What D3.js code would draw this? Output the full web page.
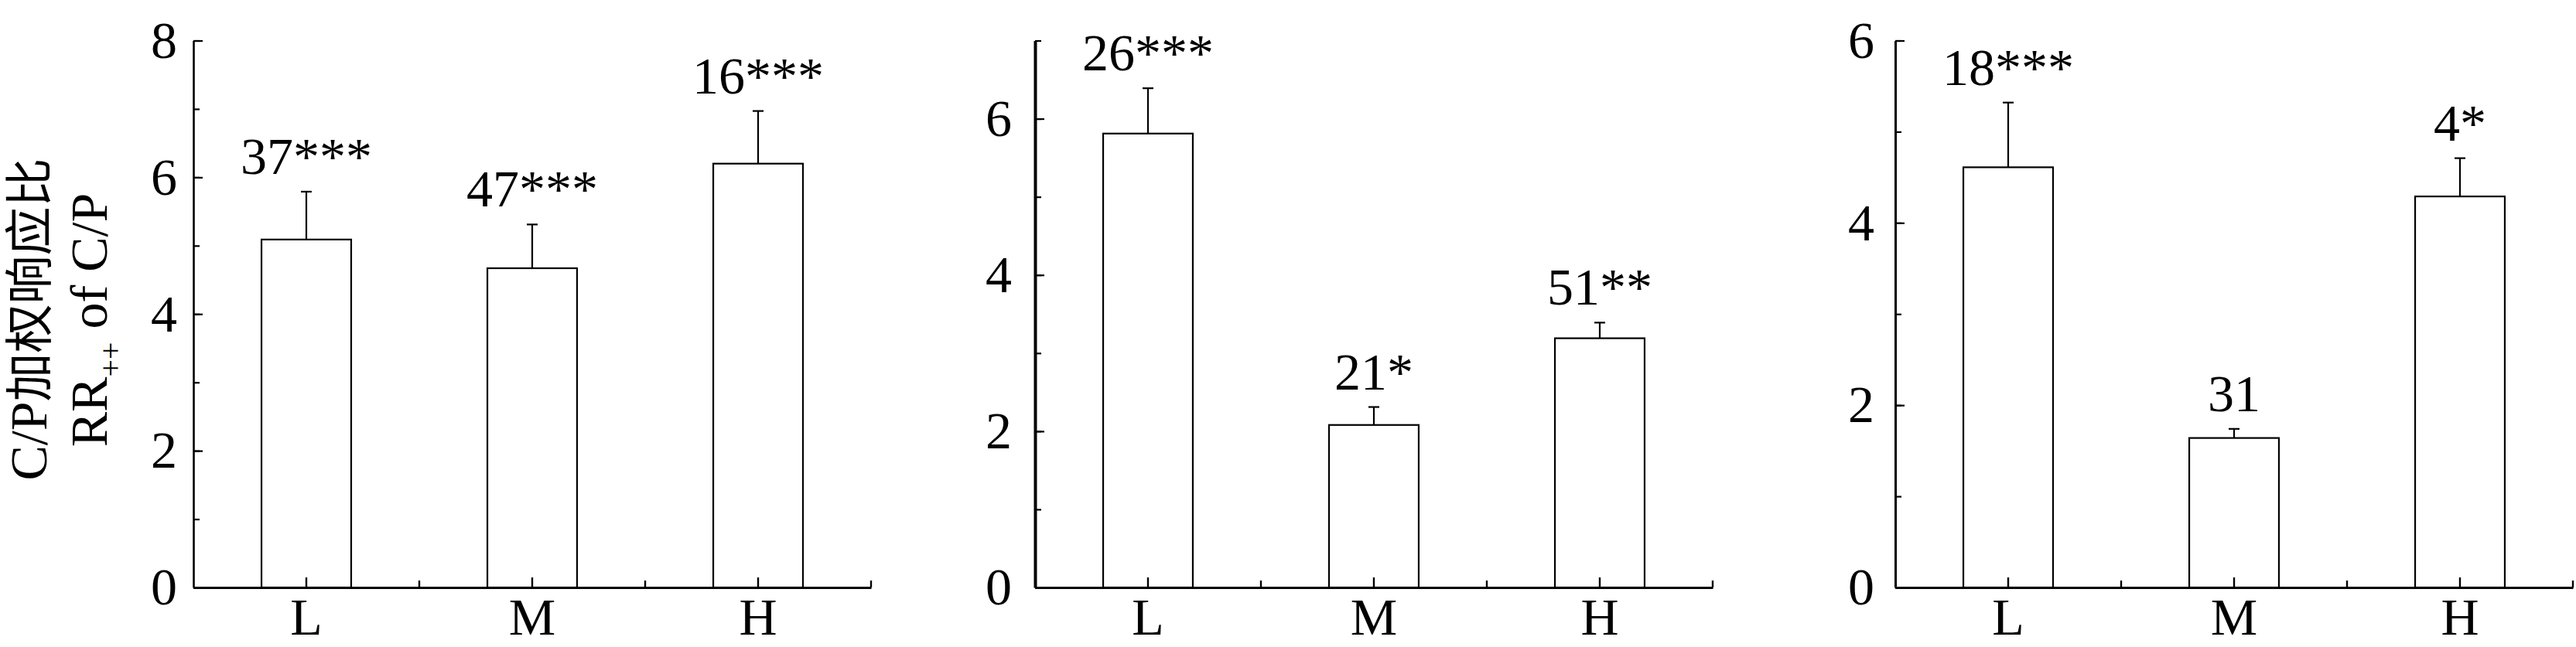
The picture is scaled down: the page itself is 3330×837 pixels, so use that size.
<!DOCTYPE html>
<html>
<head>
<meta charset="utf-8">
<script src="https://cdn.jsdelivr.net/npm/d3@7"></script>
<style>
  html, body { margin: 0; padding: 0; background: #fff; }
  svg { display: block; }
  text { font-family: "Liberation Serif", "Times New Roman", "Noto Sans CJK SC", serif; fill: #000; }
</style>
</head>
<body>
<svg id="chart" width="3330" height="837"></svg>
<script>
// ---- data ----
const categories = ["L", "M", "H"];

const panel1Values = [5.09, 4.67, 6.20];
const panel1Errors = [0.70, 0.64, 0.77];
const panel1Labels = ["37***", "47***", "16***"];

const panel2Values = [5.81, 2.08, 3.19];
const panel2Errors = [0.58, 0.23, 0.20];
const panel2Labels = ["26***", "21*", "51**"];

const panel3Values = [4.61, 1.64, 4.29];
const panel3Errors = [0.71, 0.10, 0.42];
const panel3Labels = ["18***", "31", "4*"];

const yMaxes = [8, 7, 6];
const panel1TickLabels = [0, 2, 4, 6, 8];
const panel2TickLabels = [0, 2, 4, 6];
const panel3TickLabels = [0, 2, 4, 6];

const yTitleLine1a = "C/P";
const yTitleLine1b = "加权响应比";
const yTitleLine2a = "RR";
const yTitleLine2sub = "++";
const yTitleLine2b = " of C/P";

// ---- layout ----
const svg = d3.select("#chart");
const plotTop = 52.5, plotBottom = 760;
const panelWidth = 876;
const FS = 68;
const serif = '"Liberation Serif", "Times New Roman", serif';

const panels = [
  { x0: 250,  values: panel1Values, errors: panel1Errors, labels: panel1Labels, yMax: yMaxes[0], ticks: panel1TickLabels, pad: 21, yAxisW: 2.6 },
  { x0: 1338, values: panel2Values, errors: panel2Errors, labels: panel2Labels, yMax: yMaxes[1], ticks: panel2TickLabels, pad: 30, yAxisW: 4 },
  { x0: 2450, values: panel3Values, errors: panel3Errors, labels: panel3Labels, yMax: yMaxes[2], ticks: panel3TickLabels, pad: 27, yAxisW: 3 }
];

panels.forEach(p => {
  const g = svg.append("g");
  const x = d3.scaleBand().domain(categories)
    .range([p.x0, p.x0 + panelWidth])
    .paddingInner(0.603).paddingOuter(0.3015);
  const y = d3.scaleLinear().domain([0, p.yMax]).range([plotBottom, plotTop]);

  // bars
  g.selectAll("rect.bar").data(categories).enter().append("rect")
    .attr("class", "bar")
    .attr("x", d => x(d))
    .attr("y", (d, i) => y(p.values[i]))
    .attr("width", x.bandwidth())
    .attr("height", (d, i) => plotBottom - y(p.values[i]))
    .attr("fill", "#fff").attr("stroke", "#000").attr("stroke-width", 2.2);

  // error bars (upper only)
  const cx = d => x(d) + x.bandwidth() / 2;
  g.selectAll("line.err").data(categories).enter().append("line")
    .attr("class", "err")
    .attr("x1", cx).attr("x2", cx)
    .attr("y1", (d, i) => y(p.values[i]))
    .attr("y2", (d, i) => y(p.values[i] + p.errors[i]))
    .attr("stroke", "#000").attr("stroke-width", 2.2);
  g.selectAll("line.cap").data(categories).enter().append("line")
    .attr("class", "cap")
    .attr("x1", d => cx(d) - 7).attr("x2", d => cx(d) + 7)
    .attr("y1", (d, i) => y(p.values[i] + p.errors[i]))
    .attr("y2", (d, i) => y(p.values[i] + p.errors[i]))
    .attr("stroke", "#000").attr("stroke-width", 2.2);

  // annotations
  g.selectAll("text.ann").data(categories).enter().append("text")
    .attr("class", "ann")
    .attr("x", cx)
    .attr("y", (d, i) => y(p.values[i] + p.errors[i]) - 23)
    .attr("text-anchor", "middle")
    .attr("font-size", FS)
    .style("font-family", serif)
    .text((d, i) => p.labels[i]);

  // y axis minor ticks (all integers)
  const minor = g.append("g").attr("transform", `translate(${p.x0},0)`)
    .call(d3.axisLeft(y).tickValues(d3.range(0, p.yMax + 1)).tickSizeInner(-8).tickSizeOuter(0).tickFormat(""));
  minor.select(".domain").remove();
  minor.selectAll("line").attr("stroke-width", 2.2);

  // y axis major ticks with labels
  const major = g.append("g").attr("transform", `translate(${p.x0},0)`)
    .call(d3.axisLeft(y).tickValues(p.ticks).tickFormat(d3.format("d"))
      .tickSizeInner(-12).tickSizeOuter(0).tickPadding(p.pad));
  major.select(".domain").attr("stroke-width", p.yAxisW);
  major.selectAll("line").attr("stroke-width", 2.2);
  major.selectAll("text").attr("font-size", FS).style("font-family", serif);

  // x axis
  const xa = g.append("g").attr("transform", `translate(0,${plotBottom})`)
    .call(d3.axisBottom(x).tickSizeInner(-13).tickSizeOuter(0).tickPadding(13));
  xa.select(".domain").attr("stroke-width", 3.2);
  xa.selectAll("line").attr("stroke-width", 2.4);
  xa.selectAll("text").attr("font-size", FS).style("font-family", serif);

  // band separator ticks
  g.selectAll("line.sep").data(d3.range(1, categories.length + 1)).enter().append("line")
    .attr("class", "sep")
    .attr("x1", i => p.x0 + i * x.step()).attr("x2", i => p.x0 + i * x.step())
    .attr("y1", plotBottom).attr("y2", plotBottom - 9)
    .attr("stroke", "#000").attr("stroke-width", 2.4);
});

// y-axis title (two rotated lines)
const t1 = svg.append("text")
  .attr("transform", "translate(60,413) rotate(-90)")
  .attr("text-anchor", "middle");
t1.append("tspan").attr("font-size", FS).style("font-family", serif).text(yTitleLine1a);
t1.append("tspan").attr("font-size", 63)
  .style("font-family", '"Noto Sans CJK SC", sans-serif').text(yTitleLine1b);

const t2 = svg.append("text")
  .attr("transform", "translate(138,414) rotate(-90)")
  .attr("text-anchor", "middle")
  .attr("font-size", FS)
  .style("font-family", serif);
t2.append("tspan").text(yTitleLine2a);
t2.append("tspan").attr("font-size", 40).attr("dy", 18).text(yTitleLine2sub);
t2.append("tspan").attr("dy", -18).text(yTitleLine2b);
</script>
</body>
</html>
